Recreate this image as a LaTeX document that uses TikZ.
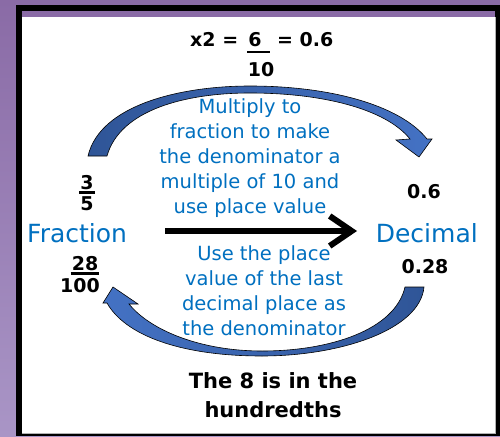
\documentclass[tikz,border=0pt]{standalone}
\usepackage{fontspec}
\setmainfont{DejaVu Sans}
\usetikzlibrary{arrows.meta,positioning}
\definecolor{framepurple}{HTML}{8A6BA6}
\definecolor{lowpurple}{HTML}{A995C6}
\definecolor{txtblue}{HTML}{0070C0}
\definecolor{arrowlight}{HTML}{4472C4}
\definecolor{arrowdark}{HTML}{2F5597}
\tikzset{
  bluetxt/.style  = {text=txtblue, inner sep=0pt, align=center,
                     font=\fontsize{19.5}{25}\selectfont},
  labeltxt/.style = {text=txtblue, inner sep=0pt, font=\fontsize{25}{30}\selectfont},
  blacktxt/.style = {inner sep=0pt, font=\bfseries\fontsize{19}{24}\selectfont},
  fracbar/.style  = {line width=2.2pt},
  bigarrow/.style = {line width=6pt, -{Straight Barb[length=22pt,width=30pt]}},
  curvearrow/.style = {draw=black, line width=0.6pt},
}
\begin{document}
\begin{tikzpicture}[x=1pt,y=-1pt]
  \useasboundingbox (0,0) rectangle (500,436);
  % background and frame
  \shade[top color=framepurple, bottom color=lowpurple] (0,0) rectangle (500,436);
  \fill[black] (16,5) rectangle (500,436);
  \fill[framepurple] (22,11) rectangle (495,17);
  \fill[white] (22,17) rectangle (495,433);
  \draw[gray!60, line width=0.8pt] (495,17) -- (495,433) -- (22,433);

  % top calculation
  \node[blacktxt, anchor=base west] (topx) at (190,47) {x2 =};
  \node[blacktxt, anchor=base] (topsix) at (255,47) {6};
  \node[blacktxt, anchor=base] (topten) at (261,76) {10};
  \draw[fracbar] (247,52) -- (270,52);
  \node[blacktxt, anchor=base west] (topdec) at (277,47) {= 0.6};

  % fraction side
  \node[blacktxt, anchor=base] (numthree) at (87,189) {3};
  \node[blacktxt, anchor=base] (denfive) at (87,210) {5};
  \draw[fracbar] ([xshift=-1pt,yshift=-3pt]numthree.south west) -- ([xshift=1pt,yshift=-3pt]numthree.south east);
  \node[labeltxt, anchor=base west] (fraction) at (27,242) {Fraction};
  \node[blacktxt, anchor=base] (numtwoeight) at (85,270) {28};
  \node[blacktxt, anchor=base] (denhundred) at (80,292) {100};
  \draw[fracbar] ([xshift=-1pt,yshift=-3pt]numtwoeight.south west) -- ([xshift=1pt,yshift=-3pt]numtwoeight.south east);

  % decimal side
  \node[blacktxt, anchor=base] (decsix) at (424,198) {0.6};
  \node[labeltxt, anchor=base east] (decimal) at (478,242) {Decimal};
  \node[blacktxt, anchor=base] (dectwoeight) at (425,273) {0.28};

  % straight arrow
  \coordinate (arrowstart) at (165,231);
  \coordinate (arrowend) at (357,231);
  \draw[bigarrow] (arrowstart) -- (arrowend);

  % upper curved arrow
  \shade[curvearrow, left color=arrowdark, right color=arrowlight]
    (88,156) .. controls (100,105) and (180,86) .. (250,86)
    .. controls (330,86) and (400,105) .. (427,139)
    -- (432,139) -- (419,157) -- (396,140) -- (410,139)
    .. controls (385,108) and (320,93) .. (250,93)
    .. controls (185,93) and (120,110) .. (107,156) -- cycle;

  % lower curved arrow
  \shade[curvearrow, left color=arrowlight, right color=arrowdark]
    (405,287) -- (424,287)
    .. controls (420,330) and (340,356) .. (262,356)
    .. controls (180,356) and (125,335) .. (107,303)
    -- (103,303) -- (113,287) -- (138,304) -- (129,304)
    .. controls (150,330) and (200,351) .. (262,351)
    .. controls (330,351) and (395,330) .. (405,287) -- cycle;

  % explanations (base = last line)
  \node[bluetxt, anchor=base] (multtext) at (250,213)
    {Multiply to\\fraction to make\\the denominator a\\multiple of 10 and\\use place value};
  \node[bluetxt, anchor=base] (placetext) at (264,335)
    {Use the place\\value of the last\\decimal place as\\the denominator};
  \node[blacktxt, anchor=base, align=center, font=\bfseries\fontsize{21}{29}\selectfont] (hundtext) at (273,417)
    {The 8 is in the\\hundredths};
\end{tikzpicture}
\end{document}
